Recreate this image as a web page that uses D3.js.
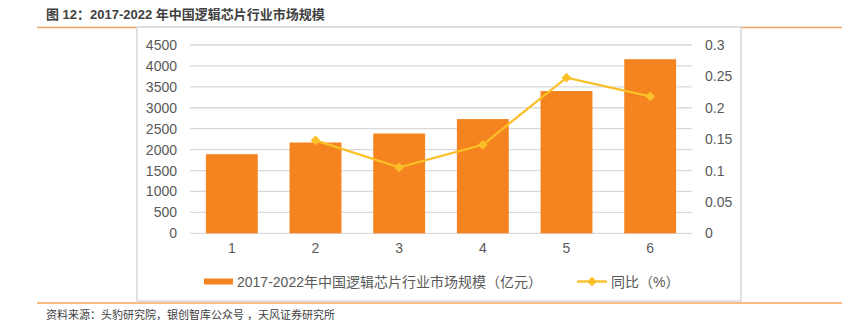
<!DOCTYPE html>
<html>
<head>
<meta charset="utf-8">
<script src="https://cdn.jsdelivr.net/npm/d3@7/dist/d3.min.js"></script>
<style>
  html, body { margin: 0; padding: 0; background: #fff; }
  svg { display: block; }
  text { font-family: "Liberation Sans", Arial, "Noto Sans CJK SC", sans-serif; }
</style>
</head>
<body>
<svg id="chart" width="857" height="324"></svg>
<script>
// Market size (100 million yuan) and year-on-year growth, categories 1..6
const categories = ["1", "2", "3", "4", "5", "6"];
const marketSize = [1890, 2170, 2385, 2730, 3400, 4160];
const yoyGrowth = [null, 0.148, 0.105, 0.141, 0.248, 0.218];
const leftTicks = [0, 500, 1000, 1500, 2000, 2500, 3000, 3500, 4000, 4500];
const rightTicks = [0, 0.05, 0.1, 0.15, 0.2, 0.25, 0.3];
const rightTickLabels = ["0", "0.05", "0.1", "0.15", "0.2", "0.25", "0.3"];

const titleText = "图 12：2017-2022 年中国逻辑芯片行业市场规模";
const sourceText = "资料来源：头豹研究院，银创智库公众号 ，天风证券研究所";
const barLegend = "2017-2022年中国逻辑芯片行业市场规模（亿元）";
const lineLegend = "同比（%）";

const barColor = "#F58320";
const lineColor = "#FBBF28";
const gridColor = "#D9D9D9";
const tickColor = "#595959";

const svg = d3.select("#chart");

// Page frame: orange rules and the grey chart box
svg.append("line").attr("x1", 37).attr("x2", 842).attr("y1", 27.5).attr("y2", 27.5)
  .attr("stroke", "#F4A460").attr("stroke-width", 1.5);
svg.append("line").attr("x1", 37).attr("x2", 842).attr("y1", 303).attr("y2", 303)
  .attr("stroke", "#F4A460").attr("stroke-width", 1.5);
svg.append("rect").attr("x", 137).attr("y", 27).attr("width", 604).attr("height", 274)
  .attr("fill", "#fff").attr("stroke", "#D9D9D9").attr("stroke-width", 1.5);

svg.append("text").attr("x", 46).attr("y", 19).attr("font-size", 13).attr("font-weight", "bold")
  .attr("fill", "#404040").text(titleText);
svg.append("text").attr("x", 46).attr("y", 319).attr("font-size", 11)
  .attr("fill", "#404040").text(sourceText);

// Scales
const x = d3.scaleBand().domain(categories).range([190, 692]).paddingInner(0.38).paddingOuter(0.19);
const yL = d3.scaleLinear().domain([0, 4500]).range([233.3, 45]);
const yR = d3.scaleLinear().domain([0, 0.3]).range([233.3, 45]);

// Gridlines
svg.append("g").selectAll("line").data(leftTicks).join("line")
  .attr("x1", 190).attr("x2", 692)
  .attr("y1", d => yL(d)).attr("y2", d => yL(d))
  .attr("stroke", gridColor).attr("stroke-width", 1.3);

// Left axis
const leftAxis = svg.append("g").attr("transform", "translate(190,0)")
  .call(d3.axisLeft(yL).tickValues(leftTicks).tickSize(0).tickPadding(13).tickFormat(d3.format("d")));
leftAxis.select(".domain").remove();
leftAxis.selectAll("text").attr("font-size", 14).attr("fill", tickColor)
  .attr("font-family", "'Liberation Sans', Arial, sans-serif");

// Right axis
const rightAxis = svg.append("g").attr("transform", "translate(692,0)")
  .call(d3.axisRight(yR).tickValues(rightTicks).tickSize(0).tickPadding(13)
    .tickFormat((d, i) => rightTickLabels[i]));
rightAxis.select(".domain").remove();
rightAxis.selectAll("text").attr("font-size", 14).attr("fill", tickColor)
  .attr("font-family", "'Liberation Sans', Arial, sans-serif");

// Bottom axis labels
const bottomAxis = svg.append("g").attr("transform", "translate(0,233.3)")
  .call(d3.axisBottom(x).tickSize(0).tickPadding(10));
bottomAxis.select(".domain").remove();
bottomAxis.selectAll("text").attr("font-size", 14).attr("fill", tickColor)
  .attr("font-family", "'Liberation Sans', Arial, sans-serif");

// Bars
svg.append("g").selectAll("rect").data(marketSize).join("rect")
  .attr("x", (d, i) => x(categories[i]))
  .attr("width", x.bandwidth())
  .attr("y", d => yL(d))
  .attr("height", d => yL(0) - yL(d))
  .attr("fill", barColor);

// Growth line
const pts = yoyGrowth.map((v, i) => ({ c: categories[i], v })).filter(d => d.v !== null);
const cx = d => x(d.c) + x.bandwidth() / 2;
svg.append("path").datum(pts)
  .attr("d", d3.line().x(cx).y(d => yR(d.v)))
  .attr("fill", "none").attr("stroke", lineColor).attr("stroke-width", 2.3);
const diamond = d3.symbol().type(d3.symbolDiamond2).size(60);
svg.append("g").selectAll("path").data(pts).join("path")
  .attr("transform", d => `translate(${cx(d)},${yR(d.v)})`)
  .attr("d", diamond).attr("fill", lineColor);

// Legend
const lg = svg.append("g");
lg.append("rect").attr("x", 204).attr("y", 278.5).attr("width", 29).attr("height", 6).attr("fill", barColor);
lg.append("text").attr("x", 237).attr("y", 286.5).attr("font-size", 14).attr("fill", tickColor).text(barLegend);
lg.append("line").attr("x1", 577).attr("x2", 607).attr("y1", 281.5).attr("y2", 281.5)
  .attr("stroke", lineColor).attr("stroke-width", 2.3);
lg.append("path").attr("transform", "translate(592,281.5)").attr("d", diamond).attr("fill", lineColor);
lg.append("text").attr("x", 611).attr("y", 286.5).attr("font-size", 14).attr("fill", tickColor).text(lineLegend);
</script>
</body>
</html>
